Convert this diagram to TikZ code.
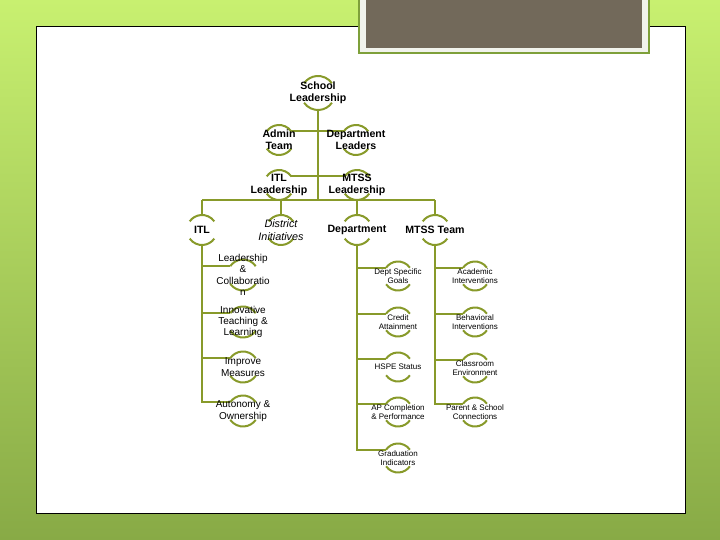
\documentclass[tikz,border=0pt]{standalone}
\usepackage{fontspec}
\setmainfont{Liberation Sans}
\usepackage{tikz}
\usetikzlibrary{backgrounds}
\definecolor{LimeTop}{HTML}{C8F070}
\definecolor{OliveBottom}{HTML}{88AA46}
\definecolor{LinkGreen}{HTML}{889A2A}
\definecolor{FrameGreen}{HTML}{7EA03A}
\definecolor{TitleGray}{HTML}{72695A}
\definecolor{TitleRim}{HTML}{F1F3EC}

\newcommand\ringarcs[2]{%
  \draw[ring] ([shift={(35:#2pt)}]#1.center) arc[start angle=35,end angle=145,radius=#2pt];
  \draw[ring] ([shift={(215:#2pt)}]#1.center) arc[start angle=215,end angle=325,radius=#2pt];}

\begin{document}
\begin{tikzpicture}[x=1pt,y=1pt,
  link/.style={draw=LinkGreen, line width=2pt},
  ring/.style={draw=LinkGreen, line width=2pt},
  headbox/.style={align=center, inner sep=0pt, font=\bfseries\fontsize{10.6}{12}\selectfont},
  leftbox/.style={align=center, inner sep=0pt, font=\fontsize{10}{11.4}\selectfont},
  rightbox/.style={align=center, inner sep=0pt, font=\fontsize{8}{8.8}\selectfont}
]
\useasboundingbox (0,0) rectangle (720,540);

% top of the tree
\node[headbox] (school) at (318,447) {School\\Leadership};
\node[headbox] (admin) at (279,400) {Admin\\Team};
\node[headbox] (deptlead) at (356,400) {Department\\Leaders};
\node[headbox] (itllead) at (279,355) {ITL\\Leadership};
\node[headbox] (mtsslead) at (357,355) {MTSS\\Leadership};
\coordinate (bar) at (318,340);

% second row
\node[headbox] (itl) at (202,310) {ITL};
\node[align=center, inner sep=0pt, font=\itshape\fontsize{10.8}{13}\selectfont] (district) at (281,310) {District\\Initiatives};
\node[headbox] (department) at (357,310) {Department};
\node[headbox] (mtssteam) at (435,310) {MTSS Team};

% ITL branch
\node[leftbox] (leadcol) at (243,265) {Leadership\\\&\\Collaboratio\\n};
\node[leftbox] (innovate) at (243,218) {Innovative\\Teaching \&\\Learning};
\node[leftbox] (improve) at (243,173) {Improve\\Measures};
\node[leftbox] (autonomy) at (243,129) {Autonomy \&\\Ownership};

% Department branch
\node[rightbox] (goals) at (398,264) {Dept Specific\\Goals};
\node[rightbox] (credit) at (398,218) {Credit\\Attainment};
\node[rightbox] (hspe) at (398,173) {HSPE Status};
\node[rightbox] (apcomp) at (398,128) {AP Completion\\\& Performance};
\node[rightbox] (gradind) at (398,82) {Graduation\\Indicators};

% MTSS branch
\node[rightbox] (academic) at (475,264) {Academic\\Interventions};
\node[rightbox] (behavior) at (475,218) {Behavioral\\Interventions};
\node[rightbox] (classroom) at (475,172) {Classroom\\Environment};
\node[rightbox] (parent) at (475,128) {Parent \& School\\Connections};

\begin{scope}[on background layer]
\shade[top color=LimeTop, bottom color=OliveBottom] (0,0) rectangle (720,540);
\draw[black, line width=0.9pt, fill=white] (36,27) rectangle (685,514);
\draw[FrameGreen, line width=1.5pt, fill=TitleRim] (359,542) rectangle (649,487);
\fill[TitleGray] (366,542) rectangle (642,492);

\draw[link] ([yshift=-17pt]school.center) -- (bar);
\draw[link] ([shift={(35:15pt)}]admin.center) -- ([shift={(145:15pt)}]deptlead.center);
\draw[link] ([shift={(35:15pt)}]itllead.center) -- ([shift={(145:15pt)}]mtsslead.center);
\draw[link] (bar -| itl.center) -- (bar -| mtssteam.center);
\foreach \n in {itl,district,department,mtssteam}
  \draw[link] (bar -| \n.center) -- ([yshift=15pt]\n.center);
\foreach \c in {leadcol,innovate,improve,autonomy}
  \draw[link] ([yshift=-15pt]itl.center) |- ([shift={(145:15.5pt)}]\c.center);
\foreach \c in {goals,credit,hspe,apcomp,gradind}
  \draw[link] ([yshift=-15pt]department.center) |- ([shift={(145:14.5pt)}]\c.center);
\foreach \c in {academic,behavior,classroom,parent}
  \draw[link] ([yshift=-15pt]mtssteam.center) |- ([shift={(145:14.5pt)}]\c.center);

\foreach \n/\r in {school/17,admin/15,deptlead/15,itllead/15,mtsslead/15,
    itl/15,district/15,department/15,mtssteam/15,
    leadcol/15.5,innovate/15.5,improve/15.5,autonomy/15.5,
    goals/14.5,credit/14.5,hspe/14.5,apcomp/14.5,gradind/14.5,
    academic/14.5,behavior/14.5,classroom/14.5,parent/14.5}
  {\ringarcs{\n}{\r}}
\end{scope}
\end{tikzpicture}
\end{document}
